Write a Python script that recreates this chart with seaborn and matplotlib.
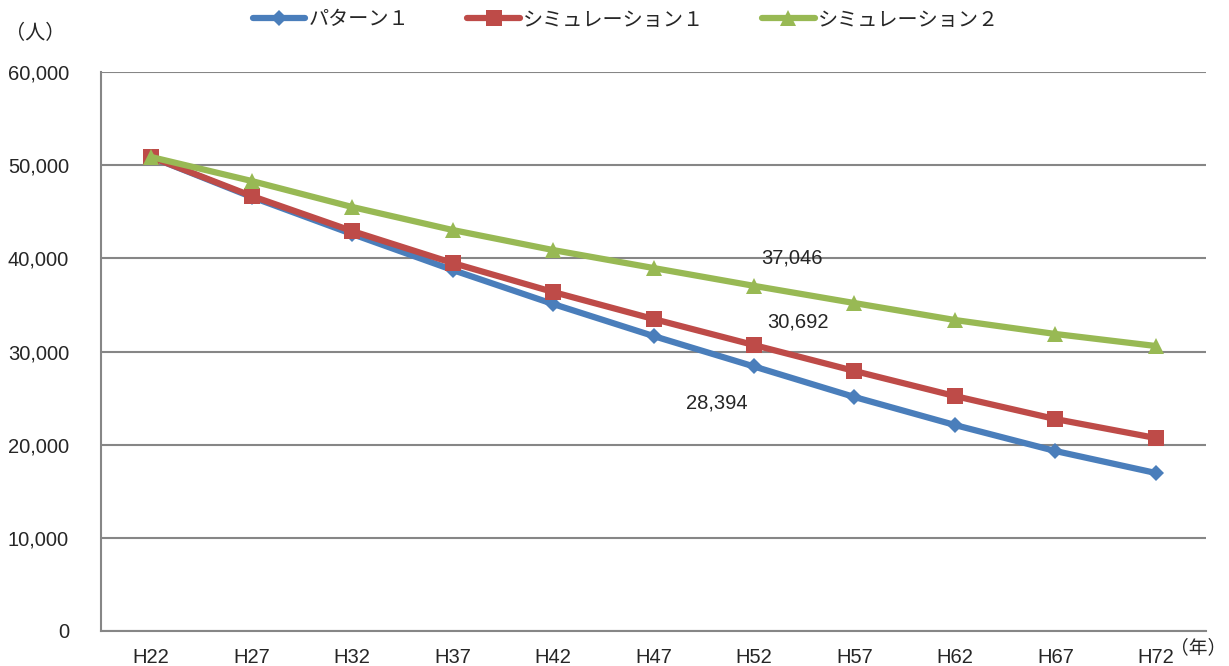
import numpy as np
import pandas as pd
import seaborn as sns
import matplotlib.pyplot as plt
from matplotlib.ticker import FuncFormatter, FixedLocator

years = ["H22", "H27", "H32", "H37", "H42", "H47", "H52", "H57", "H62", "H67", "H72"]
pattern1 = [50875, 46580, 42610, 38750, 35100, 31660, 28394, 25115, 22110, 19320, 16960]
sim1 = [50875, 46690, 42930, 39500, 36390, 33490, 30692, 27910, 25220, 22750, 20715]
sim2 = [50875, 48300, 45510, 43040, 40890, 38960, 37046, 35200, 33380, 31880, 30590]
series_names = ["パターン１", "シミュレーション１", "シミュレーション２"]

sns.set_style("white")
plt.rcParams['font.family'] = ['Liberation Sans', 'Noto Sans CJK JP', 'DejaVu Sans']

df = pd.DataFrame({
    "year": years * 3,
    "x": list(range(len(years))) * 3,
    "value": pattern1 + sim1 + sim2,
    "series": [n for n in series_names for _ in years],
})

palette = {series_names[0]: "#4a7ebb", series_names[1]: "#be4b48", series_names[2]: "#98b954"}
markers = {series_names[0]: "D", series_names[1]: "s", series_names[2]: "^"}
msize = {series_names[0]: 8, series_names[1]: 11, series_names[2]: 11}

fig = plt.figure(figsize = (12.29, 6.66), dpi = 100)
ax = fig.add_axes([101 / 1229, 35 / 666, (1206 - 101) / 1229, (631 - 72) / 666])

for name in series_names:
    sub = df[df["series"] == name]
    sns.lineplot(data = sub, x = "x", y = "value", color = palette[name], marker = markers[name],
                 markersize = msize[name], markeredgewidth = 0, linewidth = 4.5, label = name, ax = ax)

fs = 14.5
ax.set_xlim(-0.5, len(years) - 0.5)
ax.set_ylim(0, 60000)
ax.set_yticks(np.arange(0, 60001, 10000))
ax.yaxis.set_major_formatter(FuncFormatter(lambda v, p: f"{int(v):,}"))
ax.set_xticks(range(len(years)))
ax.set_xticklabels(years)
ax.xaxis.set_minor_locator(FixedLocator(np.arange(-0.5, len(years), 1.0)))
ax.tick_params(axis = "x", which = "major", length = 0, pad = 12, labelsize = fs)
ax.tick_params(axis = "x", which = "minor", length = 6, width = 1.5, color = "#868686", direction = "out")
ax.tick_params(axis = "y", length = 9, width = 1.5, color = "#868686", direction = "out", pad = 14, labelsize = fs)
ax.grid(axis = "y", color = "#868686", linewidth = 1.5)
ax.set_axisbelow(True)
for side in ["top", "right"]:
    ax.spines[side].set_visible(False)
for side in ["left", "bottom"]:
    ax.spines[side].set_color("#868686")
    ax.spines[side].set_linewidth(1.5)
ax.set_xlabel("")
ax.set_ylabel("")

# data labels at H52
i52 = years.index("H52")
ax.text(i52 + 0.38, sim2[i52] + 3000, f"{sim2[i52]:,}", ha = "center", va = "center", fontsize = fs)
ax.text(i52 + 0.44, sim1[i52] + 2500, f"{sim1[i52]:,}", ha = "center", va = "center", fontsize = fs)
ax.text(i52 - 0.37, pattern1[i52] - 3900, f"{pattern1[i52]:,}", ha = "center", va = "center", fontsize = fs)

fig.text(35 / 1229, 1 - 33 / 666, "（人）", ha = "center", va = "center", fontsize = fs)
fig.text(1198 / 1229, 1 - 648 / 666, "（年）", ha = "center", va = "center", fontsize = 13.5)

ax.legend(loc = "center", bbox_to_anchor = (0.475, 1.093), ncol = 3, frameon = False,
          fontsize = fs, handlelength = 2.6, columnspacing = 2.9, handletextpad = 0.15)

fig.savefig("out.png", dpi = 100)
